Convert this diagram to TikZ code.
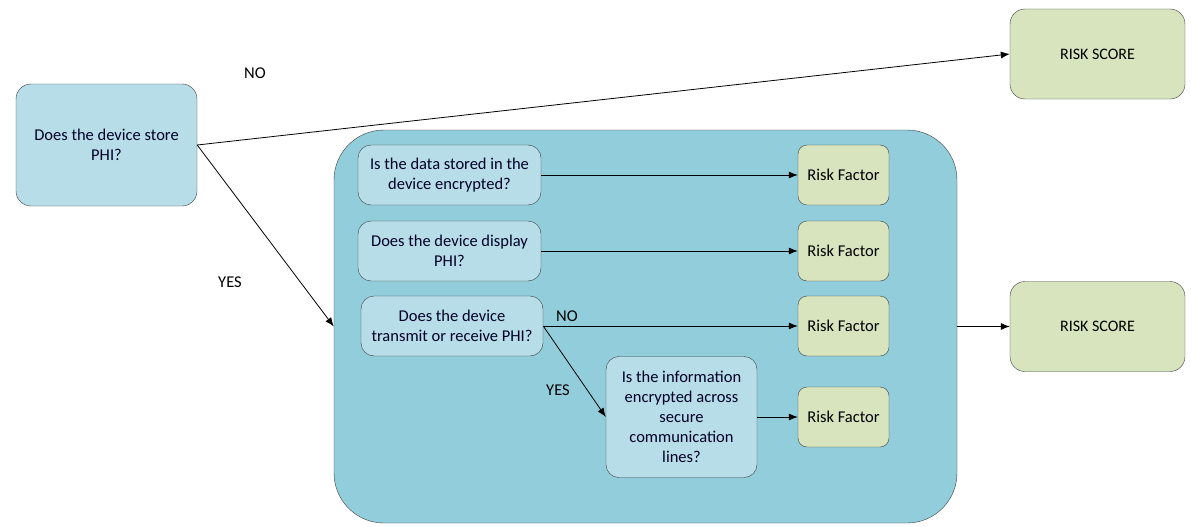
\documentclass[tikz,border=0pt]{standalone}
\usepackage{fontspec}
\setmainfont{Carlito}
\usepackage{tikz}
\usetikzlibrary{shapes.geometric, arrows.meta}
\definecolor{qblue}{HTML}{B7DDE8}
\definecolor{boxblue}{HTML}{92CDDC}
\definecolor{riskgreen}{HTML}{D7E4BD}
\definecolor{edgegray}{HTML}{3F3F3F}
\tikzstyle{arrow} = [line width=0.8pt,-{Latex[length=9pt,width=7pt]}]
\tikzstyle{question} = [rectangle,rounded corners=13pt,draw=edgegray,fill=qblue,align=center,text=black!85!blue,font=\fontsize{16.5}{20}\selectfont]
\tikzstyle{riskfactor} = [rectangle,rounded corners=9pt,draw=edgegray,fill=riskgreen,minimum width=91pt,minimum height=60pt,align=center,font=\fontsize{16.5}{20}\selectfont]
\tikzstyle{riskscore} = [rectangle,rounded corners=15pt,draw=edgegray,fill=riskgreen,minimum width=175pt,minimum height=90pt,align=center,font=\fontsize{16}{19}\selectfont]
\tikzstyle{answer} = [font=\fontsize{16.5}{20}\selectfont]

\begin{document}
\begin{tikzpicture}[x=1pt,y=-1pt]

\useasboundingbox (0,0) rectangle (1191,527);

% container for the stored-PHI questions
\node[rectangle,rounded corners=50pt,draw=edgegray,fill=boxblue,minimum width=623pt,minimum height=393pt] (group) at (645.5,326.5) {};

\node[question,rounded corners=15pt,minimum width=181pt,minimum height=122pt] (store) at (106.5,145) {Does the device store\\ PHI?};

\node[riskscore] (scoreNo) at (1097.5,54) {RISK SCORE};
\node[riskscore] (scoreYes) at (1097.5,326.5) {RISK SCORE};

\node[question,minimum width=183pt,minimum height=60pt] (encrypted) at (449.5,175) {Is the data stored in the\\ device encrypted?};
\node[question,minimum width=183pt,minimum height=60pt] (display) at (449.5,251) {Does the device display\\ PHI?};
\node[question,minimum width=182pt,minimum height=60pt] (transmit) at (452,326) {Does the device\\ transmit or receive PHI?};
\node[question,minimum width=151pt,minimum height=121pt] (secure) at (681.5,417) {Is the information\\ encrypted across\\ secure\\ communication\\ lines?};

\node[riskfactor] (rfA) at (843.5,175) {Risk Factor};
\node[riskfactor] (rfB) at (843.5,251) {Risk Factor};
\node[riskfactor] (rfC) at (843.5,326) {Risk Factor};
\node[riskfactor] (rfD) at (843.5,417) {Risk Factor};

\draw[arrow] (store.east) -- (scoreNo.west);
\draw[arrow] (store.east) -- (group.west);
\draw[arrow] (encrypted.east) -- (rfA.west);
\draw[arrow] (display.east) -- (rfB.west);
\draw[arrow] (transmit.east) -- (rfC.west);
\draw[arrow] (transmit.east) -- (secure.west);
\draw[arrow] (secure.east) -- (rfD.west);
\draw[arrow] (group.east) -- (scoreYes.west);

\node[answer] (noTop) at (255,73) {NO};
\node[answer] (yesTop) at (230,282) {YES};
\node[answer] (noIn) at (567,316) {NO};
\node[answer] (yesIn) at (558,390) {YES};

\end{tikzpicture}
\end{document}
